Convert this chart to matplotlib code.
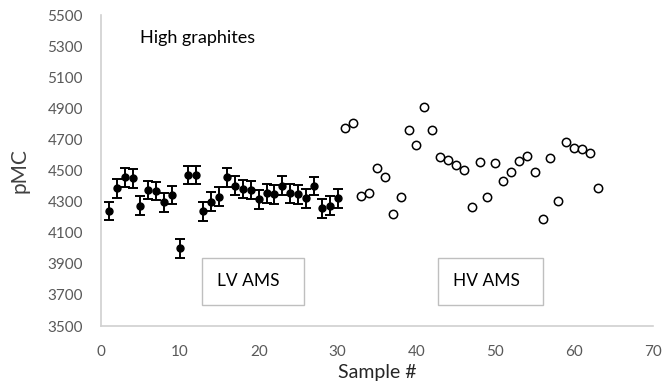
import numpy as np
import matplotlib.pyplot as plt
from matplotlib.patches import Rectangle

plt.rcParams['font.family'] = ['Lato', 'DejaVu Sans']

# LV AMS samples (filled, with error bars)
lv_sample = list(range(1, 31))
lv_pmc = [4240, 4385, 4456, 4450, 4274, 4375, 4368, 4295, 4342, 4000,
          4471, 4471, 4238, 4300, 4332, 4456, 4402, 4381, 4375, 4315,
          4353, 4347, 4402, 4353, 4347, 4321, 4400, 4257, 4274, 4321]
lv_err = [60] * 30

# HV AMS samples (open circles)
hv_sample = list(range(31, 64))
hv_pmc = [4775, 4807, 4336, 4357, 4514, 4456, 4220, 4328, 4762, 4664,
          4910, 4760, 4589, 4568, 4535, 4503, 4267, 4557, 4328, 4546,
          4434, 4492, 4563, 4595, 4492, 4186, 4578, 4306, 4685, 4643,
          4638, 4611, 4389]

yticks = list(range(3500, 5501, 200))
xticks = list(range(0, 71, 10))

fig = plt.figure(figsize=(6.67, 3.91), dpi=100)
ax = fig.add_axes([0.1514, 0.1662, 0.8276, 0.7954])

ax.errorbar(lv_sample, lv_pmc, yerr=lv_err, fmt='o', color='black',
            markersize=5, elinewidth=1.4, capsize=3.5, capthick=1.4)
ax.plot(hv_sample, hv_pmc, 'o', markerfacecolor='white', markeredgecolor='black',
        markersize=6, markeredgewidth=1.1, linestyle='none')

ax.set_xlim(0, 70)
ax.set_ylim(3500, 5500)
ax.set_xticks(xticks)
ax.set_yticks(yticks)
ax.tick_params(length=0, labelsize=11, labelcolor='#595959')
ax.tick_params(axis='x', pad=14)
ax.tick_params(axis='y', pad=13)

for s in ['top', 'right']:
    ax.spines[s].set_visible(False)
for s in ['left', 'bottom']:
    ax.spines[s].set_color('#d0d0d0')
    ax.spines[s].set_linewidth(1.2)

ax.set_xlabel('Sample #', fontsize=14, color='#262626', labelpad=3)
ax.set_ylabel('pMC', fontsize=15, color='#404040', labelpad=13)

ax.text(4.9, 5350, 'High graphites', fontsize=13, color='black', va='center')

# annotation boxes
for x0, x1, label in [(12.8, 25.7, 'LV AMS'), (42.7, 56.1, 'HV AMS')]:
    ax.add_patch(Rectangle((x0, 3635), x1 - x0, 3940 - 3635, fill=False,
                           edgecolor='#bfbfbf', linewidth=1.0))
    ax.text(x0 + 1.9, 3790, label, fontsize=12.5, color='black', va='center')

fig.savefig('out.png', dpi=100)
